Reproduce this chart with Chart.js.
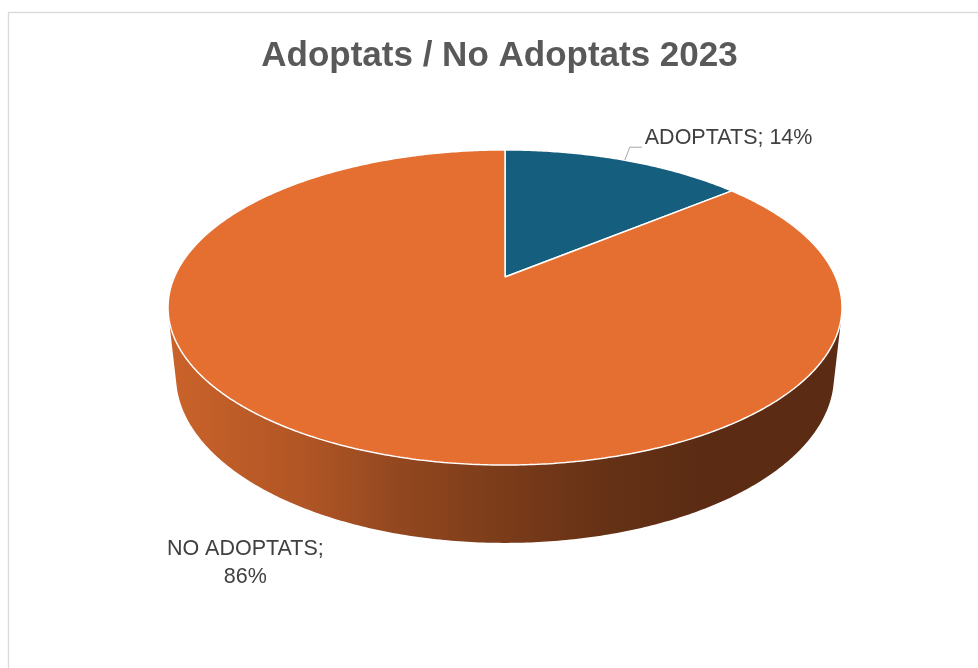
<!DOCTYPE html>
<html>
<head>
<meta charset="utf-8">
<title>Adoptats / No Adoptats 2023</title>
<script src="https://cdn.jsdelivr.net/npm/chart.js@4.4.1/dist/chart.umd.min.js"></script>
<style>
    html, body { margin: 0; padding: 0; background: #fff; }
    #wrap { width: 978px; height: 668px; }
</style>
</head>
<body>
<div id="wrap"><canvas id="adoptionsChart"></canvas></div>
<script>
const categories = ['ADOPTATS', 'NO ADOPTATS'];
const shares = [14, 86];
const sliceColors = ['#155E7D', '#E46F30'];
const chartTitle = 'Adoptats / No Adoptats 2023';

const TAU = Math.PI * 2;

// Camera looking down on the pie. Lengths are in pie radii.
const view = {
    elevation: 27.3 * Math.PI / 180,
    distance: 4.588,
    focal: 5.235,
    thickness: 0.235,
    offsetX: 0.019,
    offsetY: -0.347
};

// darkening of the side wall, left to right
const wallShade = [[0, 0.88], [0.2, 0.77], [0.34, 0.64], [0.49, 0.545], [0.64, 0.45], [0.79, 0.40], [1, 0.40]];

// where each slice label sits relative to the middle of its rim
const labelPlacement = [
    { dx: 20, dy: -22, align: 'left', wrap: false, leader: [[0, 0], [5, -13], [17, -13]] },
    { dx: -89, dy: 105.5, align: 'center', wrap: true }
];

function makeProjector(arc) {
    const R = arc.outerRadius;
    const sin = Math.sin(view.elevation);
    const cos = Math.cos(view.elevation);
    const ox = arc.x + view.offsetX * R;
    const oy = arc.y + view.offsetY * R;
    const f = view.focal * R;
    return function (px, py, z = 0) {
        const u = (px - arc.x) / R;
        const v = -(py - arc.y) / R;
        const depth = view.distance + v * cos - z * sin;
        return {
            x: ox + f * u / depth,
            y: oy - f * (v * sin + z * cos) / depth
        };
    };
}

// Wraps the canvas context so the arc element paths get bent into perspective
function projectedContext(ctx, project) {
    const arc = (x, y, r, a0, a1, ccw) => {
        if ([x, y, r, a0, a1].some(n => Number.isNaN(n))) return;
        let sweep = ccw ? a0 - a1 : a1 - a0;
        sweep = sweep >= TAU ? TAU : ((sweep % TAU) + TAU) % TAU;
        if (ccw) sweep = -sweep;
        const steps = Math.max(1, Math.ceil(Math.abs(sweep) / 0.01));
        for (let i = 0; i <= steps; i++) {
            const a = a0 + sweep * i / steps;
            const p = project(x + r * Math.cos(a), y + r * Math.sin(a));
            ctx.lineTo(p.x, p.y);
        }
    };
    return new Proxy(ctx, {
        get(target, prop) {
            if (prop === 'arc') return arc;
            if (prop === 'moveTo' || prop === 'lineTo') {
                return (x, y) => {
                    const p = project(x, y);
                    target[prop](p.x, p.y);
                };
            }
            const value = target[prop];
            return typeof value === 'function' ? value.bind(target) : value;
        },
        set(target, prop, value) {
            target[prop] = value;
            return true;
        }
    });
}

function shade(hex, k) {
    const n = parseInt(hex.slice(1), 16);
    const r = Math.round(((n >> 16) & 255) * k);
    const g = Math.round(((n >> 8) & 255) * k);
    const b = Math.round((n & 255) * k);
    return `rgb(${r},${g},${b})`;
}

function drawWall(ctx, arc, project) {
    const R = arc.outerRadius;
    const limit = Math.asin(1 / (view.distance * Math.cos(view.elevation)));
    const rim = (a, z) => project(arc.x + R * Math.cos(a), arc.y + R * Math.sin(a), z);

    const left = project(arc.x - R, arc.y).x;
    const right = project(arc.x + R, arc.y).x;
    const gradient = ctx.createLinearGradient(left, 0, right, 0);
    wallShade.forEach(([stop, k]) => gradient.addColorStop(stop, shade(arc.options.backgroundColor, k)));

    for (let k = -1; k <= 1; k++) {
        const a0 = Math.max(arc.startAngle, limit + k * TAU);
        const a1 = Math.min(arc.endAngle, Math.PI - limit + k * TAU);
        if (a1 <= a0) continue;
        const steps = Math.ceil((a1 - a0) / 0.01);
        ctx.beginPath();
        for (let i = 0; i <= steps; i++) {
            const p = rim(a0 + (a1 - a0) * i / steps, 0);
            ctx.lineTo(p.x, p.y);
        }
        for (let i = steps; i >= 0; i--) {
            const p = rim(a0 + (a1 - a0) * i / steps, -view.thickness);
            ctx.lineTo(p.x, p.y);
        }
        ctx.closePath();
        ctx.fillStyle = gradient;
        ctx.fill();
    }
}

const framePlugin = {
    id: 'frame',
    beforeDraw(chart) {
        const ctx = chart.ctx;
        ctx.save();
        ctx.strokeStyle = '#D9D9D9';
        ctx.lineWidth = 1.3;
        ctx.strokeRect(8.5, 12.5, 1000, 700);
        ctx.restore();
    }
};

const pie3dPlugin = {
    id: 'pie3d',
    beforeDatasetsDraw(chart) {
        const ctx = chart.ctx;
        const arcs = chart.getDatasetMeta(0).data;
        const project = makeProjector(arcs[0]);
        ctx.save();
        arcs.forEach(arc => drawWall(ctx, arc, project));
        const bent = projectedContext(ctx, project);
        arcs.forEach(arc => arc.draw(bent));
        ctx.restore();
        return false;
    }
};

const sliceLabelPlugin = {
    id: 'sliceLabels',
    afterDraw(chart) {
        const ctx = chart.ctx;
        const arcs = chart.getDatasetMeta(0).data;
        const project = makeProjector(arcs[0]);
        const values = chart.data.datasets[0].data;
        const total = values.reduce((a, b) => a + b, 0);

        ctx.save();
        ctx.font = '21.5px "Liberation Sans", Arial, sans-serif';
        ctx.fillStyle = '#404040';
        ctx.textBaseline = 'middle';
        arcs.forEach((arc, i) => {
            const place = labelPlacement[i];
            const mid = (arc.startAngle + arc.endAngle) / 2;
            const R = arc.outerRadius;
            const anchor = project(arc.x + R * Math.cos(mid), arc.y + R * Math.sin(mid));
            const pct = Math.round(values[i] / total * 100) + '%';
            const lines = place.wrap
                ? [chart.data.labels[i] + ';', pct]
                : [chart.data.labels[i] + '; ' + pct];

            if (place.leader) {
                ctx.beginPath();
                place.leader.forEach(([lx, ly]) => ctx.lineTo(anchor.x + lx, anchor.y + ly));
                ctx.strokeStyle = '#A6A6A6';
                ctx.lineWidth = 1;
                ctx.stroke();
            }
            ctx.textAlign = place.align;
            lines.forEach((line, j) => {
                ctx.fillText(line, anchor.x + place.dx, anchor.y + place.dy + j * 28.5);
            });
        });
        ctx.restore();
    }
};

new Chart(document.getElementById('adoptionsChart'), {
    type: 'pie',
    data: {
        labels: categories,
        datasets: [{
            data: shares,
            backgroundColor: sliceColors,
            borderColor: '#FFFFFF',
            borderWidth: 1.5
        }]
    },
    options: {
        responsive: true,
        maintainAspectRatio: false,
        animation: false,
        events: [],
        layout: { padding: { left: 21 } },
        plugins: {
            legend: { display: false },
            tooltip: { enabled: false },
            title: {
                display: true,
                text: chartTitle,
                color: '#595959',
                font: { family: '"Liberation Sans", Arial, sans-serif', size: 35, weight: 'bold' },
                padding: { top: 35, bottom: 10 }
            }
        }
    },
    plugins: [framePlugin, pie3dPlugin, sliceLabelPlugin]
});
</script>
</body>
</html>
